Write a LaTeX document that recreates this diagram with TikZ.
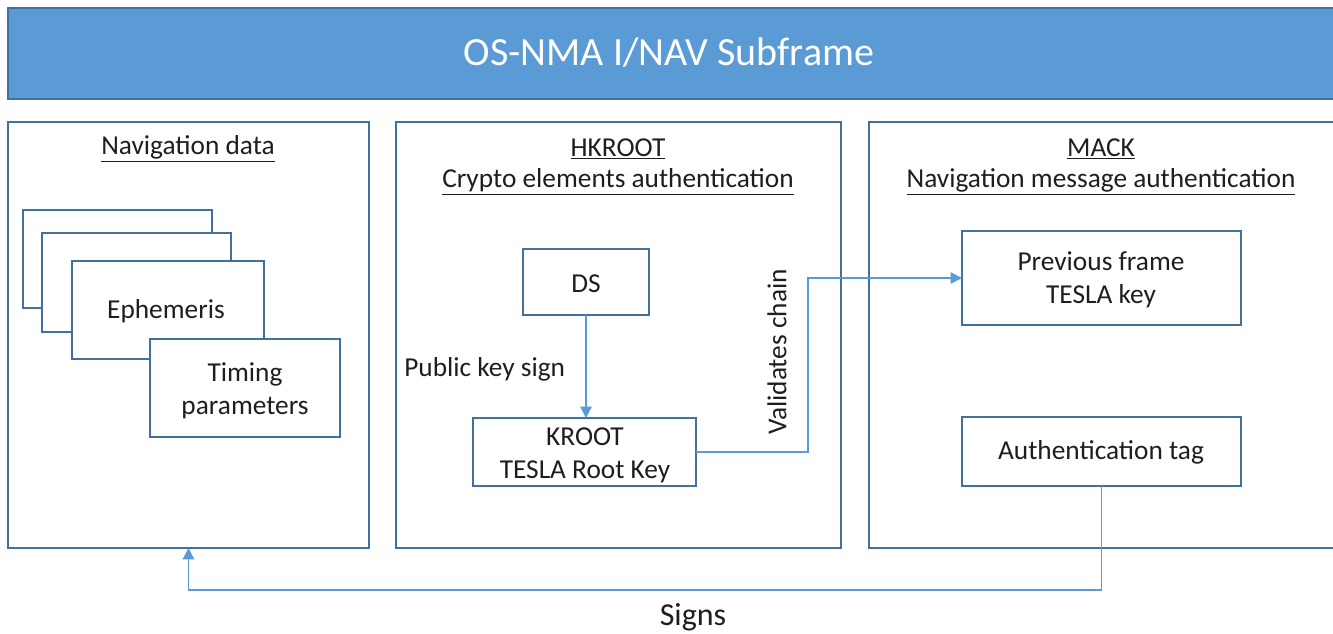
\documentclass[tikz,border=0pt]{standalone}
\usepackage{fontspec}
\setmainfont{Carlito}
\usetikzlibrary{arrows.meta,fit}
\definecolor{edgeblue}{HTML}{41719C}
\definecolor{fillblue}{HTML}{5B9BD5}
\definecolor{linkblue}{HTML}{5B9BD5}
\definecolor{txt}{HTML}{1E1E1E}
\tikzset{
  bar/.style={draw=edgeblue, fill=fillblue, line width=1pt, inner sep=0pt, outer sep=0pt},
  panel/.style={draw=edgeblue, line width=1pt, inner sep=0pt, outer sep=0pt},
  card/.style={draw=edgeblue, fill=white, line width=1pt, inner sep=0pt, outer sep=0pt, align=center, text=txt},
  lbl/.style={text=txt, font=\fontsize{20.5}{25}\selectfont, align=center, inner sep=0pt},
  link/.style={draw=linkblue, line width=1pt},
  linkarrow/.style={link, -{Triangle[length=8.5pt,width=8.5pt]}},
}
\begin{document}
\begin{tikzpicture}[x=0.75pt,y=-0.75pt]
\useasboundingbox (0,0) rectangle (1333,634);
% title bar
\node[bar, fit={(8,8)(1340,99)}] (titlebar) {};
\node[text=white, font=\fontsize{30}{36}\selectfont, inner sep=0pt] (title) at (669,52) {OS-NMA I/NAV Subframe};
% panels
\node[panel, fit={(8,122)(369,548)}] (nav) {};
\node[panel, fit={(396,122)(841,548)}] (hk) {};
\node[panel, fit={(869,122)(1340,548)}] (mack) {};
% panel titles
\node[lbl] (navtitle) at (188,149) {\underline{Navigation data}};
\node[lbl] (hktitle1) at (618,149) {\underline{HKROOT}};
\node[lbl] (hktitle2) at (618,182) {\underline{Crypto elements authentication}};
\node[lbl] (macktitle1) at (1101,149) {\underline{MACK}};
\node[lbl] (macktitle2) at (1101,182) {\underline{Navigation message authentication}};
% stacked navigation cards
\node[card, fit={(23,210)(212,308)}] (cardA) {};
\node[card, fit={(42,233)(231,332)}] (cardB) {};
\node[card, fit={(72,261)(264,359)}] (eph) {};
\node[lbl] (ephtext) at (166,311) {Ephemeris};
\node[card, fit={(150,339)(340,437)}] (timing) {};
\node[lbl] (timingtext) at (245,391) {Timing\\parameters};
% HKROOT boxes
\node[card, fit={(523,249)(649,315)}] (ds) {};
\node[lbl] (dstext) at (586,284) {DS};
\node[card, fit={(473,418)(696,486)}] (kroot) {};
\node[lbl] (kroottext) at (585,455) {KROOT\\TESLA Root Key};
\node[lbl, anchor=west] (pks) at (404,369) {Public key sign};
% MACK boxes
\node[card, fit={(962,231)(1241,325)}] (prev) {};
\node[lbl] (prevtext) at (1101,280) {Previous frame\\TESLA key};
\node[card, fit={(962,417)(1241,486)}] (auth) {};
\node[lbl] (authtext) at (1101,452) {Authentication tag};
% connectors
\draw[linkarrow] (ds.south) -- (ds.south |- kroot.north);
\coordinate (vx) at (808,0);
\draw[linkarrow] (kroot.east) -| (vx |- prev.west) -- (prev.west);
\node[lbl, rotate=90] (valid) at (777,352) {Validates chain};
\coordinate (lowy) at (0,590);
\draw[linkarrow] (auth.south) -- (auth.south |- lowy) -| (nav.south);
\node[text=txt, font=\fontsize{24}{28}\selectfont, inner sep=0pt] (signs) at (693,617) {Signs};
\end{tikzpicture}
\end{document}
